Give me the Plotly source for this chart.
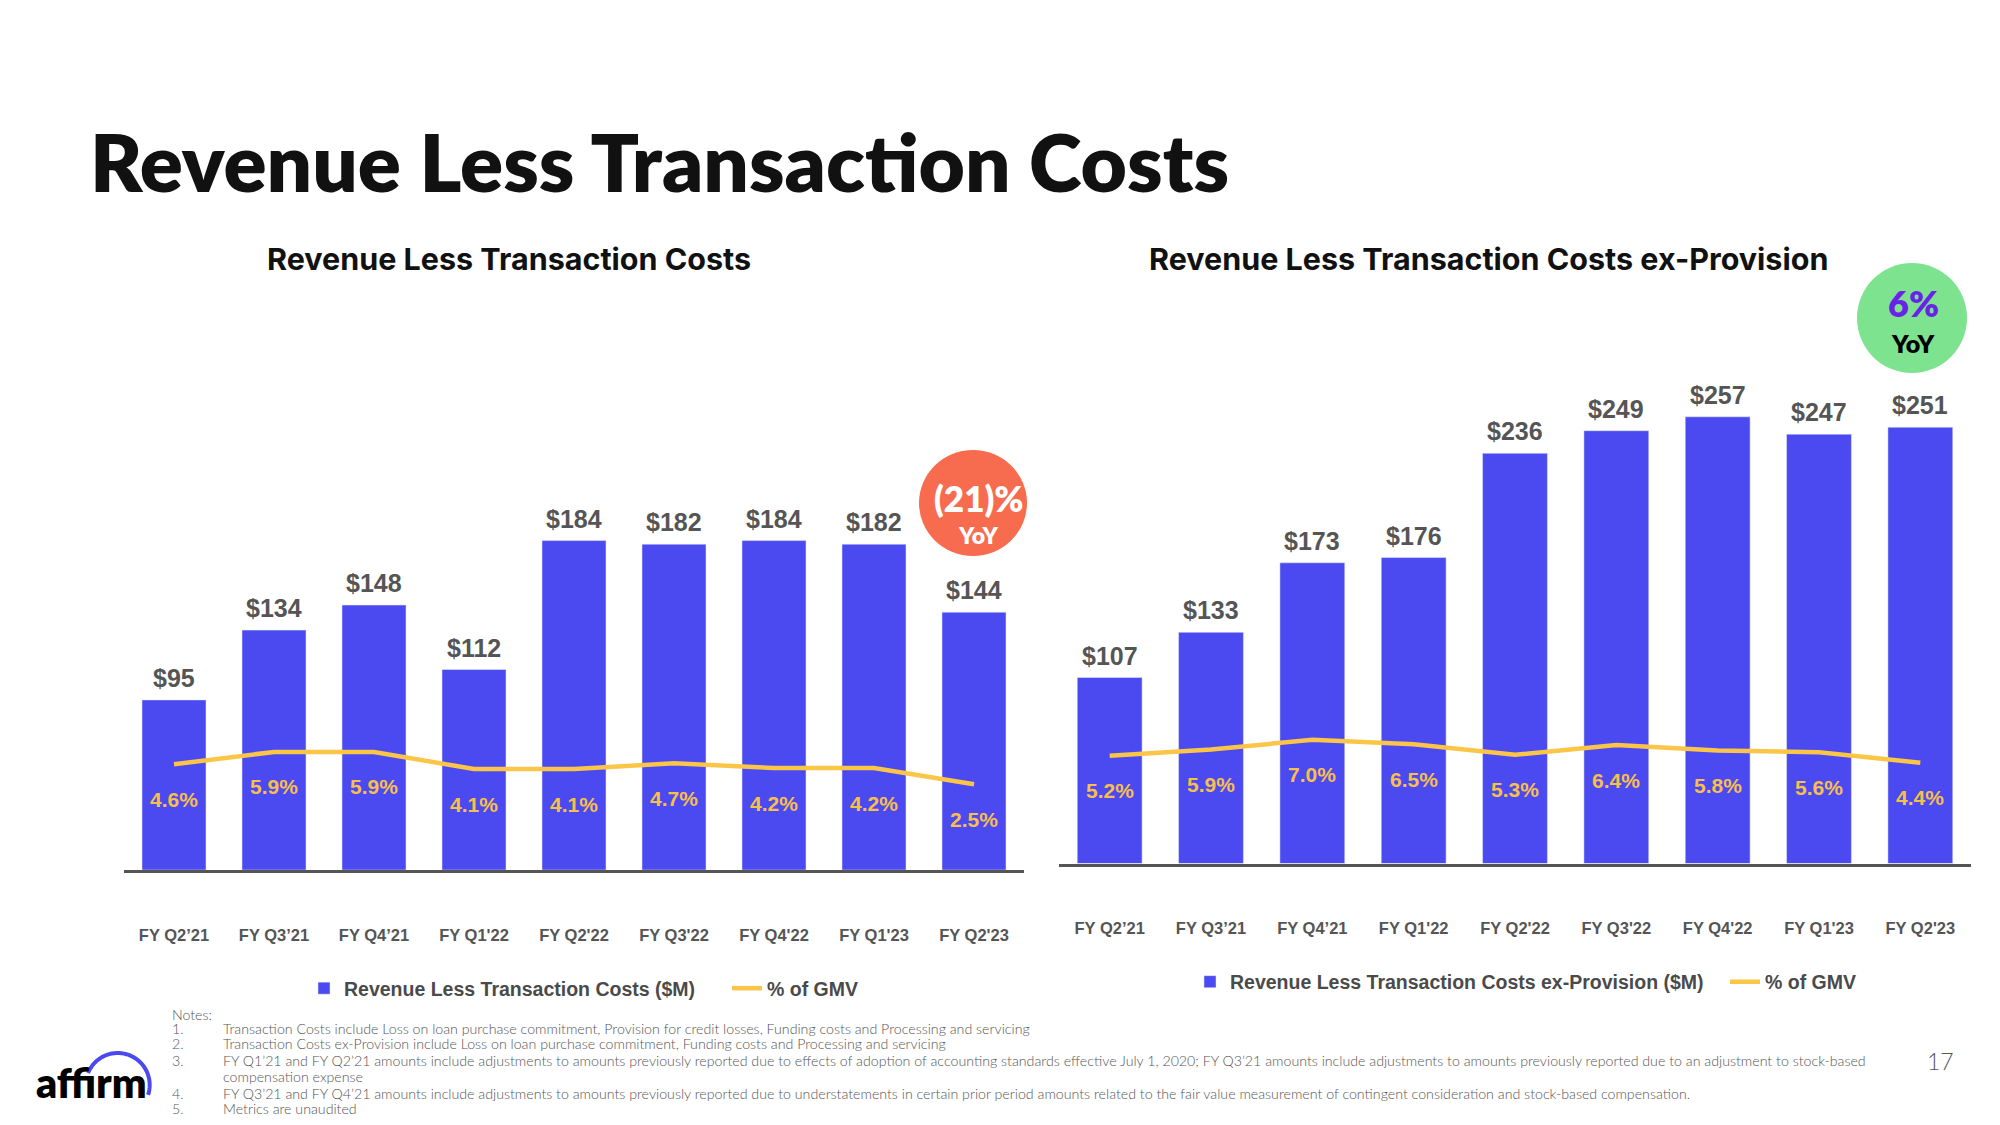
import math
import plotly.graph_objects as go

# ---------------- data ----------------
categories = ["FY Q2’21", "FY Q3’21", "FY Q4’21", "FY Q1'22", "FY Q2'22",
              "FY Q3'22", "FY Q4'22", "FY Q1'23", "FY Q2'23"]
rltc = [95, 134, 148, 112, 184, 182, 184, 182, 144]
rltc_pct_gmv = [4.6, 5.9, 5.9, 4.1, 4.1, 4.7, 4.2, 4.2, 2.5]
rltc_ex = [107, 133, 173, 176, 236, 249, 257, 247, 251]
rltc_ex_pct_gmv = [5.2, 5.9, 7.0, 6.5, 5.3, 6.4, 5.8, 5.6, 4.4]

yoy_left = ["(21)%", "YoY"]
yoy_right = ["6%", "YoY"]

notes = [
    ("1.", "Transaction Costs include Loss on loan purchase commitment, Provision for credit losses, Funding costs and Processing and servicing"),
    ("2.", "Transaction Costs ex-Provision include Loss on loan purchase commitment, Funding costs and Processing and servicing"),
    ("3.", "FY Q1’21 and FY Q2’21 amounts include adjustments to amounts previously reported due to effects of adoption of accounting standards effective July 1, 2020; FY Q3’21 amounts include adjustments to amounts previously reported due to an adjustment to stock-based"),
    ("", "compensation expense"),
    ("4.", "FY Q3’21 and FY Q4’21 amounts include adjustments to amounts previously reported due to understatements in certain prior period amounts related to the fair value measurement of contingent consideration and stock-based compensation."),
    ("5.", "Metrics are unaudited"),
]

# ---------------- styling ----------------
W, H = 2000, 1125
BLUE = "#4B49F0"
YELLOW = "#FBC548"
PCT_TXT = "#F7BF4C"
GRAY = "#555555"
CORAL = "#F76B4F"
GREEN = "#7DE38F"
PURPLE = "#6A22E8"
SANS = "Liberation Sans, Arial, sans-serif"
GEO = "Lato, Inter, sans-serif"
SUB = "Inter, Lato, sans-serif"


def px(x):
    return x / W


def py(y):
    return 1 - y / H


fig = go.Figure()

fig.add_trace(go.Bar(x=categories, y=rltc, marker_color=BLUE,
                     name="Revenue Less Transaction Costs ($M)", legendwidth=378,
                     xaxis="x", yaxis="y", legend="legend", hoverinfo="skip"))
fig.add_trace(go.Scatter(x=categories, y=rltc_pct_gmv, mode="lines",
                         line=dict(color=YELLOW, width=4.5), name="% of GMV",
                         xaxis="x", yaxis="y2", legend="legend", hoverinfo="skip"))
fig.add_trace(go.Bar(x=categories, y=rltc_ex, marker_color=BLUE,
                     name="Revenue Less Transaction Costs ex-Provision ($M)", legendwidth=490,
                     xaxis="x2", yaxis="y3", legend="legend2", hoverinfo="skip"))
fig.add_trace(go.Scatter(x=categories, y=rltc_ex_pct_gmv, mode="lines",
                         line=dict(color=YELLOW, width=4.5), name="% of GMV",
                         xaxis="x2", yaxis="y4", legend="legend2", hoverinfo="skip"))

ann = []


def pa(x, y, text, font, xanchor="center", yanchor="middle"):
    ann.append(dict(x=px(x), y=py(y), xref="paper", yref="paper", text=text, showarrow=False,
                    xanchor=xanchor, yanchor=yanchor, font=font))


# value labels and % labels
for xa, ya, ya2, vals, pcts in (("x", "y", "y2", rltc, rltc_pct_gmv),
                                ("x2", "y3", "y4", rltc_ex, rltc_ex_pct_gmv)):
    for c, v in zip(categories, vals):
        ann.append(dict(x=c, y=v, xref=xa, yref=ya, text=f"${v}", showarrow=False,
                        xanchor="center", yanchor="bottom", yshift=6,
                        font=dict(family=SANS, size=25, color=GRAY, weight="bold")))
    for c, p in zip(categories, pcts):
        ann.append(dict(x=c, y=p, xref=xa, yref=ya2, text=f"{p:.1f}%", showarrow=False,
                        xanchor="center", yanchor="middle", yshift=-35,
                        font=dict(family=SANS, size=21, color=PCT_TXT, weight="bold")))

# titles
pa(88, 161, "Revenue Less Transaction Costs",
   dict(family=GEO, size=80, color="#111111", weight=800), xanchor="left")
pa(509, 258, "Revenue Less Transaction Costs",
   dict(family=SUB, size=30.5, color="#111111", weight=700))
pa(1488, 258, "Revenue Less Transaction Costs ex-Provision",
   dict(family=SUB, size=30.5, color="#111111", weight=700))

# YoY bubbles text
pa(979, 498, yoy_left[0], dict(family=GEO, size=35, color="white", weight=800))
pa(978, 535, yoy_left[1], dict(family=GEO, size=23, color="white", weight=800))
pa(1913, 303, yoy_right[0], dict(family=GEO, size=36, color=PURPLE, weight=800))
pa(1913, 343, yoy_right[1], dict(family=GEO, size=25, color="#000000", weight=800))

# notes
nfont = dict(family=GEO, size=14.2, color=GRAY, weight=300)
pa(170, 1014, "Notes:", nfont, xanchor="left")
note_y = [1028, 1043, 1060, 1076.5, 1093, 1108]
for (num, txt), yy in zip(notes, note_y):
    if num:
        pa(170, yy, num, nfont, xanchor="left")
    pa(221, yy, txt, nfont, xanchor="left")

# page number
pa(1940, 1061, "17", dict(family=GEO, size=23, color=GRAY, weight=300))
# logo text
pa(34, 1082, "affirm", dict(family=GEO, size=41, color="#000000", weight=800), xanchor="left")

# shapes: bubbles + logo arc
shapes = [
    dict(type="circle", xref="paper", yref="paper", xsizemode="pixel", ysizemode="pixel",
         xanchor=px(973), yanchor=py(503), x0=-54, x1=54, y0=-53, y1=53,
         fillcolor=CORAL, line=dict(width=0), layer="below"),
    dict(type="circle", xref="paper", yref="paper", xsizemode="pixel", ysizemode="pixel",
         xanchor=px(1912), yanchor=py(318), x0=-55, x1=55, y0=-55, y1=55,
         fillcolor=GREEN, line=dict(width=0), layer="below"),
]
cx, cy, r = 117.7, 1085, 32
pts = []
for i in range(41):
    t = math.radians(158 - i * (176 / 40))
    pts.append((px(cx + r * math.cos(t)), py(cy - r * math.sin(t))))
path = "M" + " L".join(f"{a:.5f},{b:.5f}" for a, b in pts)
shapes.append(dict(type="path", xref="paper", yref="paper", path=path,
                   line=dict(color=BLUE, width=4)))

tickfont = dict(family=SANS, size=16.5, color=GRAY, weight="bold")
legfont = dict(family=SANS, size=19.5, color="#4a4a4a", weight="bold")

fig.update_layout(
    width=W, height=H,
    margin=dict(l=0, r=0, t=0, b=0),
    paper_bgcolor="white", plot_bgcolor="rgba(0,0,0,0)",
    bargap=0.36,
    showlegend=True,
    xaxis=dict(domain=[px(124), px(1024)], anchor="y", showline=True, linecolor=GRAY, linewidth=2.5,
               showgrid=False, zeroline=False, ticks="", tickfont=tickfont, ticklabelstandoff=48,
               fixedrange=True),
    yaxis=dict(domain=[py(870), py(300)], range=[0, 318.4], visible=False, fixedrange=True),
    yaxis2=dict(overlaying="y", anchor="x", range=[-6.53, 53.47], visible=False, fixedrange=True),
    xaxis2=dict(domain=[px(1059), px(1971)], anchor="y3", showline=True, linecolor=GRAY, linewidth=2.5,
                showgrid=False, zeroline=False, ticks="", tickfont=tickfont, ticklabelstandoff=48,
                fixedrange=True),
    yaxis3=dict(domain=[py(863.5), py(300)], anchor="x2", range=[0, 324.2], visible=False, fixedrange=True),
    yaxis4=dict(overlaying="y3", anchor="x2", range=[-7.01, 56.8], visible=False, fixedrange=True),
    legend=dict(orientation="h", x=px(304), xanchor="left", y=py(988.5), yanchor="middle",
                font=legfont, bgcolor="rgba(0,0,0,0)"),
    legend2=dict(orientation="h", x=px(1190), xanchor="left", y=py(982), yanchor="middle",
                 font=legfont, bgcolor="rgba(0,0,0,0)"),
    annotations=ann,
    shapes=shapes,
)

fig.write_html("out.html", config={"displayModeBar": False},
               post_script="document.body.style.margin='0px';document.body.style.overflow='hidden';")
